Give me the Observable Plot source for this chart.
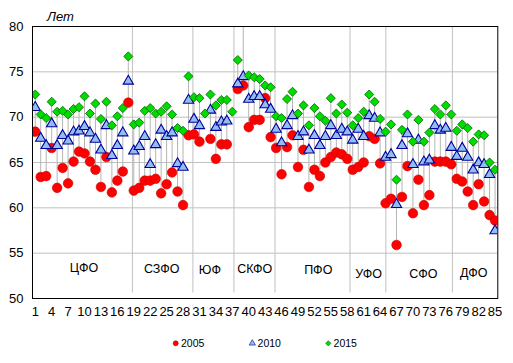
<!DOCTYPE html>
<html><head><meta charset="utf-8">
<script src="https://cdn.jsdelivr.net/npm/d3@7"></script>
<script src="https://cdn.jsdelivr.net/npm/@observablehq/plot@0.6"></script>
<style>html,body{margin:0;padding:0;background:#fff}</style>
</head><body><div id="chart"></div>
<script>
const regions = d3.range(1, 86);
const v2005 = [68.4,63.4,63.5,66.6,62.2,64.4,62.7,65.1,66.2,66.0,65.1,64.2,62.3,65.6,61.7,63.0,64.0,71.6,
  61.9,62.2,63.0,63.0,63.2,61.6,62.6,63.9,61.8,60.3,68.0,
  68.1,67.3,null,67.6,65.4,67.0,67.0,null,
  73.1,73.5,68.9,69.7,69.7,72.1,67.8,
  66.6,63.7,66.7,68.0,64.5,66.4,62.3,64.2,63.5,65.0,65.6,66.1,65.9,65.4,
  64.2,64.5,65.0,67.9,67.6,64.9,
  60.5,61.0,55.9,61.2,64.6,59.4,63.1,60.3,61.4,65.1,65.1,65.1,
  64.8,63.2,62.9,61.8,60.3,62.6,60.7,59.2,58.6];
const v2010 = [71.2,67.8,67.0,69.4,67.0,68.1,67.5,68.5,68.6,69.1,68.4,67.7,66.5,69.2,65.9,67.0,68.4,74.1,
  66.4,66.9,68.0,64.9,67.1,68.7,68.0,68.4,65.0,64.6,72.0,
  69.9,69.2,null,70.9,69.0,69.6,69.7,null,
  73.8,74.6,72.1,72.4,72.4,71.5,71.0,
  68.8,67.3,69.2,70.3,68.0,68.5,66.5,68.1,67.0,68.0,69.2,68.1,68.8,68.5,
  67.6,68.8,68.0,70.3,70.0,68.4,
  65.7,66.0,60.5,67.0,68.3,64.9,67.6,65.2,65.4,69.2,68.7,68.9,
  66.8,65.8,66.7,65.7,64.3,65.1,64.9,63.8,57.6];
const v2015 = [72.5,70.3,69.9,71.7,70.6,70.7,70.3,70.9,71.1,72.3,70.4,71.5,69.8,71.7,69.1,70.1,71.0,76.7,
  69.2,69.4,70.7,71.0,70.4,70.6,71.2,70.3,68.8,68.5,74.5,
  72.2,72.1,70.4,72.5,71.3,71.9,71.9,70.6,
  76.3,81.0,74.6,74.4,74.2,73.5,73.3,
  70.1,69.9,72.0,72.8,70.4,71.3,69.1,71.0,70.1,69.6,72.1,70.4,71.4,70.5,
  69.1,69.9,70.6,72.5,71.7,69.8,
  68.4,69.2,63.1,68.6,70.3,67.3,69.7,67.3,68.3,70.9,70.3,71.3,
  70.3,68.5,69.2,68.8,67.3,68.1,68.0,65.0,64.2];
const seriesNames = ["2005", "2010", "2015"];
const districts = ["ЦФО","СЗФО","ЮФ","СКФО","ПФО","УФО","СФО","ДФО"];
const districtLabelX = [9.9, 24.1, 32.9, 41.1, 52.7, 61.9, 71.9, 81.1];
const districtLabelY = [53.35, 53.2, 53.1, 53.25, 53.1, 52.75, 52.75, 52.85];
const separators = [18.75, 29.8, 37.3, 44.8, 58.5, 65.05, 77.2];
const xTicks = d3.range(1, 86, 3);
const yTicks = [50, 55, 60, 65, 70, 75, 80];
const gridY = [55, 60, 65, 70, 75];
const yUnit = "Лет";

const pts = (vals) => regions.map((r, i) => ({region: r, value: vals[i]})).filter(d => d.value != null);
const p2005 = pts(v2005), p2010 = pts(v2010), p2015 = pts(v2015);
const ranges = regions.map((r, i) => {
  const vs = [v2005[i], v2010[i], v2015[i]].filter(v => v != null);
  return {region: r, lo: d3.min(vs), hi: d3.max(vs)};
});
const labels = districts.map((name, i) => ({name, x: districtLabelX[i], y: districtLabelY[i]}));

const FONT = "'Liberation Sans', Arial, sans-serif";
const colors = {
  red: "#ff0000", redStroke: "#c80000",
  blue: "#93bdf0", blueStroke: "#00009a",
  green: "#00dc00", greenStroke: "#006400",
  grid: "#c0c0c0", drop: "#b4b4b4"
};

const chart = Plot.plot({
  width: 513, height: 363,
  marginLeft: 32, marginRight: 15.7, marginTop: 26, marginBottom: 65,
  style: {fontFamily: FONT, background: "#fff", color: "#000"},
  x: {domain: [0.5, 85.5], axis: null},
  y: {domain: [50, 80], axis: null},
  marks: [
    Plot.ruleY(gridY, {stroke: colors.grid, strokeWidth: 1}),
    Plot.ruleX(separators, {y1: 50.6, y2: 80, stroke: colors.grid, strokeWidth: 1}),
    Plot.ruleX(ranges, {x: "region", y1: "lo", y2: "hi", stroke: colors.drop, strokeWidth: 1, clip: true}),
    Plot.dot(p2005, {x: "region", y: "value", r: 4.8, symbol: "circle", fill: colors.red, stroke: colors.redStroke, strokeWidth: 0.6, clip: true}),
    Plot.dot(p2010, {x: "region", y: "value", r: 3.8, dy: 1.2, symbol: "triangle", fill: colors.blue, stroke: colors.blueStroke, strokeWidth: 1.1, clip: true}),
    Plot.dot(p2015, {x: "region", y: "value", r: 4.1, symbol: "diamond2", fill: colors.green, stroke: colors.greenStroke, strokeWidth: 0.8, clip: true}),
    Plot.text(labels, {x: "x", y: "y", text: "name", fontSize: 12.5, fontFamily: FONT, fill: "#000", textAnchor: "middle"}),
    Plot.frame({stroke: "#000", strokeWidth: 1}),
    Plot.axisX(xTicks, {tickSize: 0, tickPadding: 8, fontSize: 13, fontFamily: FONT, fill: "#000", tickFormat: d => String(d), label: null}),
    Plot.axisY(yTicks, {tickSize: 0, tickPadding: 9, fontSize: 13, fontFamily: FONT, fill: "#000", label: null})
  ]
});
document.getElementById("chart").appendChild(chart);

const svg = d3.select(chart);
svg.append("text").attr("x", 47).attr("y", 20.5).attr("text-anchor", "start").attr("font-family", FONT).attr("font-size", 13)
  .attr("font-style", "italic").attr("fill", "#000").text(yUnit);

// legend
const legendItems = [
  {name: seriesNames[0], x: 175.7, sym: d3.symbolCircle, size: 20, fill: colors.red, stroke: colors.redStroke},
  {name: seriesNames[1], x: 252.3, sym: d3.symbolTriangle, size: 17, fill: colors.blue, stroke: colors.blueStroke},
  {name: seriesNames[2], x: 328.3, sym: d3.symbolDiamond2, size: 18, fill: colors.green, stroke: colors.greenStroke}
];
const lg = svg.append("g");
legendItems.forEach(it => {
  lg.append("path").attr("d", d3.symbol(it.sym, it.size)()).attr("transform", `translate(${it.x},343.3)`)
    .attr("fill", it.fill).attr("stroke", it.stroke).attr("stroke-width", 0.6);
  lg.append("text").attr("x", it.x + 5.3).attr("y", 343.3).attr("dy", "0.35em").attr("text-anchor", "start")
    .attr("font-family", FONT).attr("font-size", 10.5).attr("fill", "#000").text(it.name);
});
</script>
</body></html>
